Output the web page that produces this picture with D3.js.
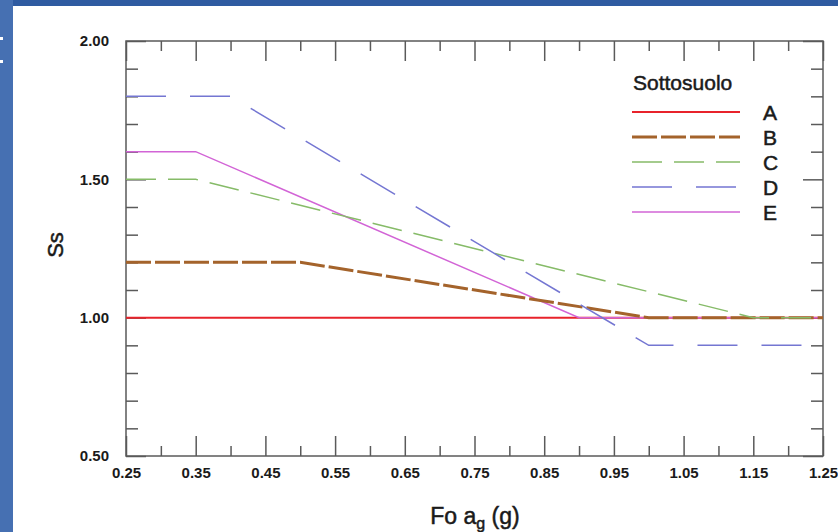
<!DOCTYPE html>
<html>
<head>
<meta charset="utf-8">
<script src="https://cdn.jsdelivr.net/npm/d3@7"></script>
<style>
  body { margin: 0; background: #fff; }
  text { font-family: "Liberation Sans", Arial, sans-serif; fill: #1a1a1a; }
  .heavy { stroke: #1a1a1a; stroke-width: 0.5px; }
</style>
</head>
<body>
<div id="chart"></div>
<script>
// categories (Sottosuolo) and break points of each curve
const categories = ["A", "B", "C", "D", "E"];
const seriesA = [[0.25, 1.00], [1.25, 1.00]];
const seriesB = [[0.25, 1.20], [0.50, 1.20], [1.00, 1.00], [1.25, 1.00]];
const seriesC = [[0.25, 1.50], [0.35, 1.50], [1.15, 1.00], [1.25, 1.00]];
const seriesD = [[0.25, 1.80], [0.40, 1.80], [1.00, 0.90], [1.25, 0.90]];
const seriesE = [[0.25, 1.60], [0.35, 1.60], [0.90, 1.00], [1.25, 1.00]];
const xTickLabels = [0.25, 0.35, 0.45, 0.55, 0.65, 0.75, 0.85, 0.95, 1.05, 1.15, 1.25];
const xMinorTicks = [0.30, 0.40, 0.50, 0.60, 0.70, 0.80, 0.90, 1.00, 1.10, 1.20];
const yTickLabels = [0.50, 1.00, 1.50, 2.00];
const yMinorTicks = [0.6, 0.7, 0.8, 0.9, 1.1, 1.2, 1.3, 1.4, 1.6, 1.7, 1.8, 1.9];

const width = 838, height = 532;
const margin = { top: 41, right: 15, bottom: 76, left: 126 };

const svg = d3.select("#chart")
    .append("svg")
    .attr("width", width)
    .attr("height", height);

// slide background bits
svg.append("rect").attr("x", 0).attr("y", 0).attr("width", width).attr("height", 6).attr("fill", "#2f5ba1");
svg.append("rect").attr("x", 0).attr("y", 0).attr("width", 13).attr("height", height).attr("fill", "#4670b2");
svg.append("rect").attr("x", 0).attr("y", 37).attr("width", 3).attr("height", 3).attr("fill", "#fff");
svg.append("rect").attr("x", 0).attr("y", 60).attr("width", 3).attr("height", 3).attr("fill", "#fff");

const x = d3.scaleLinear().domain([0.25, 1.25]).range([margin.left, width - margin.right]);
const y = d3.scaleLinear().domain([0.5, 2.0]).range([height - margin.bottom, margin.top]);

const axisColor = "#5a5a5a";
function styleAxis(g) {
    g.select(".domain").remove();
    g.selectAll(".tick line").attr("stroke", axisColor).attr("stroke-width", 1.5);
}

// bottom axis with labels
svg.append("g")
    .attr("transform", `translate(0,${y(0.5)})`)
    .call(d3.axisBottom(x).tickValues(xTickLabels).tickSizeInner(-20).tickSizeOuter(0)
        .tickPadding(11).tickFormat(d3.format(".2f")))
    .call(styleAxis)
    .selectAll("text").style("font-size", "15px").style("font-weight", "bold").attr("fill", "#1a1a1a");

svg.append("g")
    .attr("transform", `translate(0,${y(0.5)})`)
    .call(d3.axisBottom(x).tickValues(xMinorTicks).tickSizeInner(-10).tickSizeOuter(0).tickFormat(""))
    .call(styleAxis);

// top axis
svg.append("g")
    .attr("transform", `translate(0,${y(2.0)})`)
    .call(d3.axisTop(x).tickValues(xTickLabels).tickSizeInner(-20).tickSizeOuter(0).tickFormat(""))
    .call(styleAxis);
svg.append("g")
    .attr("transform", `translate(0,${y(2.0)})`)
    .call(d3.axisTop(x).tickValues(xMinorTicks).tickSizeInner(-10).tickSizeOuter(0).tickFormat(""))
    .call(styleAxis);

// left axis
svg.append("g")
    .attr("transform", `translate(${x(0.25)},0)`)
    .call(d3.axisLeft(y).tickValues(yTickLabels).tickSizeInner(-20).tickSizeOuter(0)
        .tickPadding(17).tickFormat(d3.format(".2f")))
    .call(styleAxis)
    .selectAll("text").style("font-size", "15px").style("font-weight", "bold").attr("fill", "#1a1a1a");
svg.append("g")
    .attr("transform", `translate(${x(0.25)},0)`)
    .call(d3.axisLeft(y).tickValues(yMinorTicks).tickSizeInner(-12).tickSizeOuter(0).tickFormat(""))
    .call(styleAxis);

// right axis
svg.append("g")
    .attr("transform", `translate(${x(1.25)},0)`)
    .call(d3.axisRight(y).tickValues(yTickLabels).tickSizeInner(-20).tickSizeOuter(0).tickFormat(""))
    .call(styleAxis);
svg.append("g")
    .attr("transform", `translate(${x(1.25)},0)`)
    .call(d3.axisRight(y).tickValues(yMinorTicks).tickSizeInner(-12).tickSizeOuter(0).tickFormat(""))
    .call(styleAxis);

// frame
svg.append("rect")
    .attr("x", x(0.25)).attr("y", y(2.0))
    .attr("width", x(1.25) - x(0.25)).attr("height", y(0.5) - y(2.0))
    .attr("fill", "none").attr("stroke", axisColor).attr("stroke-width", 1.5);

// series
const series = [
    { name: "A", data: seriesA, color: "#e8232b", width: 2, dash: null },
    { name: "E", data: seriesE, color: "#d264d6", width: 1.5, dash: null },
    { name: "B", data: seriesB, color: "#a4632b", width: 3, dash: "25,4" },
    { name: "C", data: seriesC, color: "#86bb68", width: 1.5, dash: "30,12" },
    { name: "D", data: seriesD, color: "#7476d2", width: 1.5, dash: "40,24" }
];

const line = d3.line().x(d => x(d[0])).y(d => y(d[1]));

svg.append("g")
    .selectAll("path")
    .data(series)
    .enter()
    .append("path")
    .attr("d", d => line(d.data))
    .attr("fill", "none")
    .attr("stroke", d => d.color)
    .attr("stroke-width", d => d.width)
    .attr("stroke-dasharray", d => d.dash);

// legend
const legend = svg.append("g");
legend.append("text")
    .attr("class", "heavy")
    .attr("x", 633).attr("y", 90)
    .style("font-size", "21px")
    .text("Sottosuolo");

const legendY = d3.scalePoint().domain(categories).range([112, 212]);
const byName = Object.fromEntries(series.map(s => [s.name, s]));

const items = legend.selectAll(".item")
    .data(categories)
    .enter()
    .append("g")
    .attr("class", "item");

items.append("line")
    .attr("x1", 632).attr("x2", 740)
    .attr("y1", d => legendY(d)).attr("y2", d => legendY(d))
    .attr("stroke", d => byName[d].color)
    .attr("stroke-width", d => byName[d].width)
    .attr("stroke-dasharray", d => byName[d].dash);

items.append("text")
    .attr("class", "heavy")
    .attr("x", 763)
    .attr("y", d => legendY(d) + 8)
    .style("font-size", "21px")
    .text(d => d);

// axis titles
const xt = svg.append("text")
    .attr("class", "heavy")
    .attr("x", 475).attr("y", 524)
    .attr("text-anchor", "middle")
    .style("font-size", "23px");
xt.append("tspan").text("Fo a");
xt.append("tspan").attr("dy", 5).style("font-size", "16px").text("g");
xt.append("tspan").attr("dy", -5).text(" (g)");

svg.append("text")
    .attr("class", "heavy")
    .attr("transform", "translate(63,245) rotate(-90)")
    .attr("text-anchor", "middle")
    .style("font-size", "22px")
    .text("Ss");
</script>
</body>
</html>
